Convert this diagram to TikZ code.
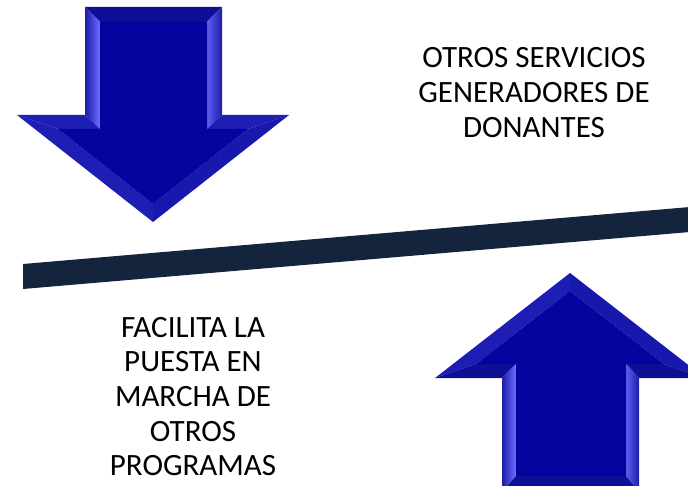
\documentclass[tikz,border=0pt]{standalone}
\usepackage{fontspec}
\setmainfont{Carlito}
\definecolor{face}{RGB}{4,4,158}
\definecolor{bevdark}{RGB}{14,14,150}
\definecolor{bevmid}{RGB}{30,30,180}
\definecolor{bevhead}{RGB}{24,24,172}
\definecolor{bevlight}{RGB}{110,110,255}
\definecolor{bevedge}{RGB}{28,28,170}
\definecolor{barcol}{RGB}{20,36,60}
\tikzset{
  lbl/.style={font=\fontsize{31}{34.6}\selectfont, align=center, inner sep=0pt, anchor=north, text=black},
}
\begin{document}
\begin{tikzpicture}[x=1pt,y=-1pt]
\useasboundingbox (0,0) rectangle (688,486);
\clip (0,0) rectangle (688,486);
% ---------- down arrow ----------
\begin{scope}
\coordinate (dA) at (85,7);   \coordinate (dB) at (222,7);
\coordinate (dC) at (222,115);\coordinate (dD) at (289,115);
\coordinate (dE) at (153,222);\coordinate (dF) at (17,115);
\coordinate (dG) at (85,115);
\coordinate (da) at (100,22); \coordinate (db) at (207,22);
\coordinate (dc) at (207,129);\coordinate (dd) at (248,129);
\coordinate (de) at (153,204);\coordinate (df) at (58,129);
\coordinate (dg) at (100,129);
\fill[bevdark] (dA)--(dB)--(db)--(da)--cycle;
\shade[left color=bevedge,right color=bevlight] (dA)--(da)--(dg)--(dG)--cycle;
\shade[left color=bevlight!80!bevmid,right color=bevedge] (dB)--(dC)--(dc)--(db)--cycle;
\fill[bevmid] (dC)--(dD)--(dd)--(dc)--cycle;
\fill[bevmid] (dF)--(dG)--(dg)--(df)--cycle;
\fill[bevhead] (dD)--(dE)--(de)--(dd)--cycle;
\fill[bevmid] (dE)--(dF)--(df)--(de)--cycle;
\fill[face] (da)--(db)--(dc)--(dd)--(de)--(df)--(dg)--cycle;
\end{scope}
% ---------- up arrow ----------
\begin{scope}
\coordinate (uT) at (570,273); \coordinate (uR) at (705,378);
\coordinate (uRS) at (639,378);\coordinate (uRB) at (639,492);
\coordinate (uLB) at (502,492);\coordinate (uLS) at (502,378);
\coordinate (uL) at (435,378);
\coordinate (ut) at (570,291); \coordinate (ur) at (664,364);
\coordinate (urs) at (626,364);\coordinate (urb) at (626,476);
\coordinate (ulb) at (516,476);\coordinate (uls) at (516,364);
\coordinate (ul) at (476,364);
\fill[bevmid] (uT)--(uL)--(ul)--(ut)--cycle;
\fill[bevhead] (uT)--(uR)--(ur)--(ut)--cycle;
\fill[bevdark] (uR)--(uRS)--(urs)--(ur)--cycle;
\fill[bevdark] (uL)--(uLS)--(uls)--(ul)--cycle;
\shade[left color=bevedge,right color=bevlight] (uLS)--(uls)--(ulb)--(uLB)--cycle;
\shade[left color=bevlight!80!bevmid,right color=bevedge] (uRS)--(uRB)--(urb)--(urs)--cycle;
\fill[bevdark] (uLB)--(uRB)--(urb)--(ulb)--cycle;
\fill[face] (ut)--(ur)--(urs)--(urb)--(ulb)--(uls)--(ul)--cycle;
\end{scope}
% ---------- bar ----------
\fill[barcol] (23,264)--(690,207)--(690,232)--(23,289)--cycle;
% ---------- texts ----------
\node[lbl] (t1) at (534,47.5) {OTROS SERVICIOS\\GENERADORES DE\\DONANTES};
\node[lbl] (t2) at (193,317) {FACILITA LA\\PUESTA EN\\MARCHA DE\\OTROS\\PROGRAMAS};
\end{tikzpicture}
\end{document}
